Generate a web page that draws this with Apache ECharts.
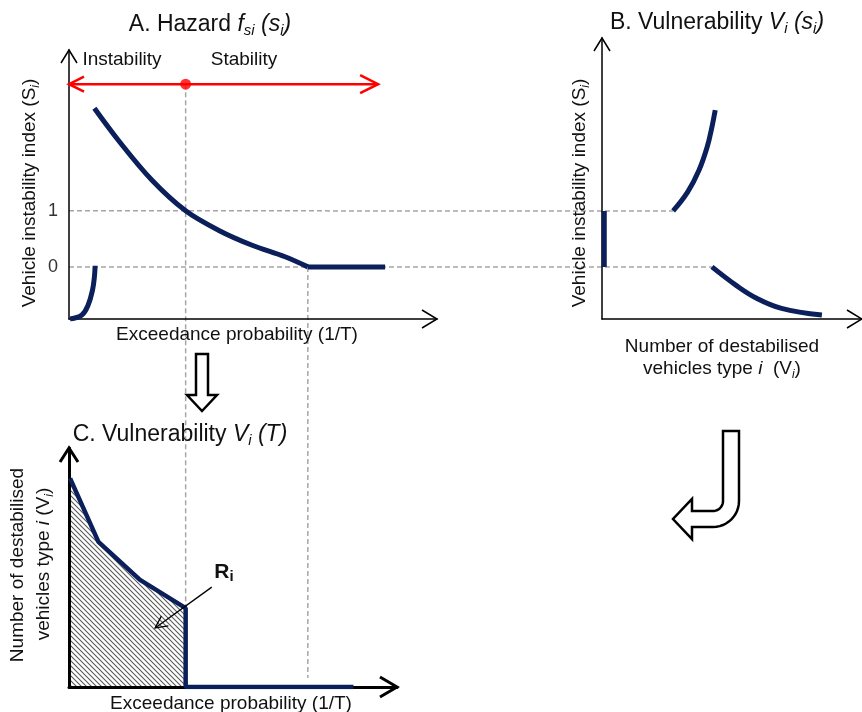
<!DOCTYPE html>
<html><head><meta charset="utf-8">
<script src="https://cdn.jsdelivr.net/npm/echarts@6/dist/echarts.min.js"></script>
<style>html,body{margin:0;padding:0;background:#fff}#c{width:862px;height:712px}</style>
</head><body><div id="c"></div>
<script>
// ---------- Panel A: Hazard ----------
const hazardX = [0.69, 1.34, 2.25, 3.17, 4.06, 4.96, 5.87, 6.49];
const hazardY = [2.83, 2.26, 1.55, 1.00, 0.655, 0.39, 0.18, 0.00];
const hazardFlatX = [6.49, 8.59];
const hazardFlatY = [0, 0];
const instabX = [0.03, 0.35, 0.52, 0.64, 0.69, 0.71];
const instabY = [-0.93, -0.86, -0.68, -0.41, -0.18, 0.02];
const yTicksA = [0, 1];
const thresholdX = [3.17, 6.49];
const stabArrowX = [0, 8.40];
const stabArrowY = 3.26;
// ---------- Panel B: Vulnerability V(s) ----------
const vulnUpX = [2.82, 3.40, 3.85, 4.17, 4.36, 4.49];
const vulnUpY = [1.00, 1.34, 1.73, 2.14, 2.50, 2.80];
const vulnLowX = [4.36, 5.32, 6.09, 7.12, 8.72];
const vulnLowY = [0.00, -0.33, -0.55, -0.74, -0.86];
const vulnBarX = [0.09, 0.09];
const vulnBarY = [0, 1];
// ---------- Panel C: Vulnerability V(T) ----------
const vulnTX = [0.03, 0.80, 1.93, 3.17, 3.17, 7.73];
const vulnTY = [8.73, 6.07, 4.48, 3.30, 0, 0];
const riFrom = [3.88, 4.18];
const riTo = [2.34, 2.47];

const NAVY = '#0b1f5b';
const FONT = '"Liberation Sans", Arial, sans-serif';
const zip = (xs, ys) => xs.map((x, i) => [x, ys[i]]);

const pc = document.createElement('canvas');
pc.width = 5; pc.height = 5;
const g = pc.getContext('2d');
g.fillStyle = '#fff'; g.fillRect(0, 0, 5, 5);
g.strokeStyle = '#5a5a5a'; g.lineWidth = 1.1;
g.beginPath();
g.moveTo(-1, -1); g.lineTo(6, 6);
g.moveTo(-1, 4); g.lineTo(1, 6);
g.moveTo(4, -1); g.lineTo(6, 1);
g.stroke();

const chart = echarts.init(document.getElementById('c'), null, {renderer: 'canvas'});

function axisPair(gi, xmin, xmax, ymin, ymax, lw, showY) {
  const line = {show: true, onZero: false, lineStyle: {color: '#000', width: lw}};
  return {
    x: {type: 'value', gridIndex: gi, min: xmin, max: xmax, axisLine: line, axisTick: {show: false},
        axisLabel: {show: false}, splitLine: {show: false}, z: 3},
    y: {type: 'value', gridIndex: gi, min: ymin, max: ymax, axisLine: line, axisTick: {show: false},
        axisLabel: showY ? {show: true, customValues: yTicksA, margin: 11, fontSize: 18, color: '#333', fontFamily: FONT} : {show: false},
        splitLine: {show: false}, z: 3}
  };
}
const aA = axisPair(0, 0, 10, -0.93, 3.87, 1.5, true);
const aB = axisPair(1, 0, 10.31, -0.93, 4.088, 1.5, false);
const aC = axisPair(2, 0, 8.913, 0, 10, 3, false);

const lineS = (gi, data, extra) => Object.assign({
  type: 'line', xAxisIndex: gi, yAxisIndex: gi, data: data, symbol: 'none',
  lineStyle: {color: NAVY, width: 5}, z: 5, silent: true, animation: false
}, extra || {});

chart.setOption({
  animation: false,
  backgroundColor: '#fff',
  grid: [
    {left: 69, top: 50, width: 368, height: 269},
    {left: 602, top: 38, width: 268, height: 281},
    {left: 69, top: 448, width: 328, height: 239}
  ],
  xAxis: [aA.x, aB.x, aC.x],
  yAxis: [aA.y, aB.y, aC.y],
  series: [
    lineS(0, zip(hazardX, hazardY), {smooth: 0.35}),
    lineS(0, zip(hazardFlatX, hazardFlatY)),
    lineS(0, zip(instabX, instabY), {smooth: 0.4}),
    lineS(0, zip(stabArrowX, stabArrowX.map(() => stabArrowY)), {lineStyle: {color: '#ff0000', width: 2.5}, z: 6}),
    {type: 'scatter', xAxisIndex: 0, yAxisIndex: 0, data: [[thresholdX[0], stabArrowY]], symbolSize: 11,
     itemStyle: {color: '#ff0000'}, z: 7, silent: true},
    lineS(1, zip(vulnUpX, vulnUpY), {smooth: 0.4}),
    lineS(1, zip(vulnLowX, vulnLowY), {smooth: 0.4}),
    lineS(1, zip(vulnBarX, vulnBarY)),
    lineS(2, zip(vulnTX, vulnTY), {lineStyle: {width: 0, opacity: 0}, z: 1,
      areaStyle: {color: {image: pc, repeat: 'repeat'}, opacity: 1}}),
    lineS(2, zip(vulnTX, vulnTY), {lineStyle: {color: NAVY, width: 4.5}, z: 5})
  ]
});

const P = (gi, p) => chart.convertToPixel({gridIndex: gi}, p);
const els = [];
function seg(a, b, style, z) {
  els.push({type: 'line', shape: {x1: a[0], y1: a[1], x2: b[0], y2: b[1]}, style: style, z: z, silent: true});
}
const dash = {stroke: '#a6a6a6', lineWidth: 1.5, lineDash: [5, 3]};
seg(P(0, [0, 1]), P(1, [vulnUpX[0], 1]), dash, 1);
seg(P(0, [0, 0]), P(1, [vulnLowX[0], 0]), dash, 1);
seg(P(0, [thresholdX[0], stabArrowY]), P(2, [thresholdX[0], 0]), dash, 1);
seg(P(0, [thresholdX[1], 0]), P(2, [thresholdX[1], 0.38]), dash, 1);

function chevron(tip, dir, len, half, color, w) {
  const px = -dir[1], py = dir[0];
  const bx = tip[0] - dir[0] * len, by = tip[1] - dir[1] * len;
  els.push({type: 'polyline', z: 20, silent: true,
    shape: {points: [[bx + px * half, by + py * half], tip, [bx - px * half, by - py * half]]},
    style: {stroke: color, lineWidth: w, fill: null, lineJoin: 'miter'}});
}
chevron(P(0, [0, 3.87]), [0, -1], 13, 8, '#000', 1.5);
chevron(P(0, [10, -0.93]), [1, 0], 15, 9, '#000', 1.5);
chevron(P(1, [0, 4.088]), [0, -1], 13, 8, '#000', 1.5);
chevron(P(1, [10.31, -0.93]), [1, 0], 15, 9, '#000', 1.5);
chevron(P(2, [0, 10]), [0, -1], 14, 9, '#000', 3);
chevron(P(2, [8.913, 0]), [1, 0], 17, 10, '#000', 3);
chevron(P(0, [stabArrowX[0], stabArrowY]), [-1, 0], 15, 7.5, '#ff0000', 2.5);
chevron(P(0, [stabArrowX[1], stabArrowY]), [1, 0], 18, 9, '#ff0000', 2.5);
// R_i pointer
const r0 = P(2, riFrom), r1 = P(2, riTo);
seg(r0, r1, {stroke: '#000', lineWidth: 1.3}, 20);
const dl = Math.hypot(r1[0] - r0[0], r1[1] - r0[1]);
chevron(r1, [(r1[0] - r0[0]) / dl, (r1[1] - r0[1]) / dl], 12, 6, '#000', 1.3);

// Hollow arrows
els.push({type: 'polygon', z: 20, silent: true,
  shape: {points: [[196,354],[208,354],[208,395],[217,395],[202,411],[187,395],[196,395]]},
  style: {fill: '#fff', stroke: '#000', lineWidth: 2.5, lineJoin: 'miter'}});
const hook = [[723,431],[739,431],[739,501]];
for (let k = 1; k <= 12; k++) { const t = k / 12 * Math.PI / 2; hook.push([713 + 26 * Math.cos(t), 501 + 26 * Math.sin(t)]); }
hook.push([692,527],[692,539],[673,519],[692,499],[692,511]);
for (let k = 0; k <= 12; k++) { const t = (12 - k) / 12 * Math.PI / 2; hook.push([713 + 10 * Math.cos(t), 501 + 10 * Math.sin(t)]); }
els.push({type: 'polygon', z: 20, silent: true, shape: {points: hook},
  style: {fill: '#fff', stroke: '#000', lineWidth: 2.5, lineJoin: 'miter'}});

// Texts
const baseRich = (fs) => ({
  n: {fontSize: fs, fontFamily: FONT, color: '#111', lineHeight: fs + 4},
  i: {fontSize: fs, fontFamily: FONT, color: '#111', fontStyle: 'italic', lineHeight: fs + 4},
  s: {fontSize: Math.round(fs * 0.65), fontFamily: FONT, color: '#111', fontStyle: 'italic', lineHeight: Math.round(fs * 0.7), verticalAlign: 'bottom'},
  b: {fontSize: fs, fontFamily: FONT, color: '#000', fontWeight: 'bold', lineHeight: fs + 4},
  bs: {fontSize: Math.round(fs * 0.7), fontFamily: FONT, color: '#000', fontWeight: 'bold', lineHeight: Math.round(fs * 0.75), verticalAlign: 'bottom'}
});
function txt(x, y, text, fs, rot) {
  els.push({type: 'text', x: x, y: y, rotation: rot || 0, z: 30, silent: true,
    style: {text: text, rich: baseRich(fs), align: 'center', verticalAlign: 'middle', fontSize: fs, fontFamily: FONT, fill: '#111'}});
}
txt(210, 25, '{n|A. Hazard }{i|f}{s|si}{i| (s}{s|i}{i|)}', 23);
txt(717, 23, '{n|B. Vulnerability }{i|V}{s|i}{i| (s}{s|i}{i|)}', 23);
txt(180, 435, '{n|C. Vulnerability }{i|V}{s|i}{i| (T)}', 23);
txt(122, 60, '{n|Instability}', 19);
txt(244, 60, '{n|Stability}', 19);
txt(237, 335, '{n|Exceedance probability (1/T)}', 19);
txt(30, 193, '{n|Vehicle instability index (S}{s|i}{n|)}', 19, Math.PI / 2);
txt(580, 193, '{n|Vehicle instability index (S}{s|i}{n|)}', 19, Math.PI / 2);
txt(722, 347, '{n|Number of destabilised}', 19);
txt(722, 369, '{n|vehicles type }{i|i}{n|  (V}{s|i}{n|)}', 19);
txt(18, 565, '{n|Number of destabilised}', 19, Math.PI / 2);
txt(44, 564, '{n|vehicles type }{i|i}{n| (V}{s|i}{n|)}', 19, Math.PI / 2);
txt(231, 704, '{n|Exceedance probability (1/T)}', 19);
txt(224, 572, '{b|R}{bs|i}', 21);

chart.setOption({graphic: {elements: els}});
</script></body></html>
